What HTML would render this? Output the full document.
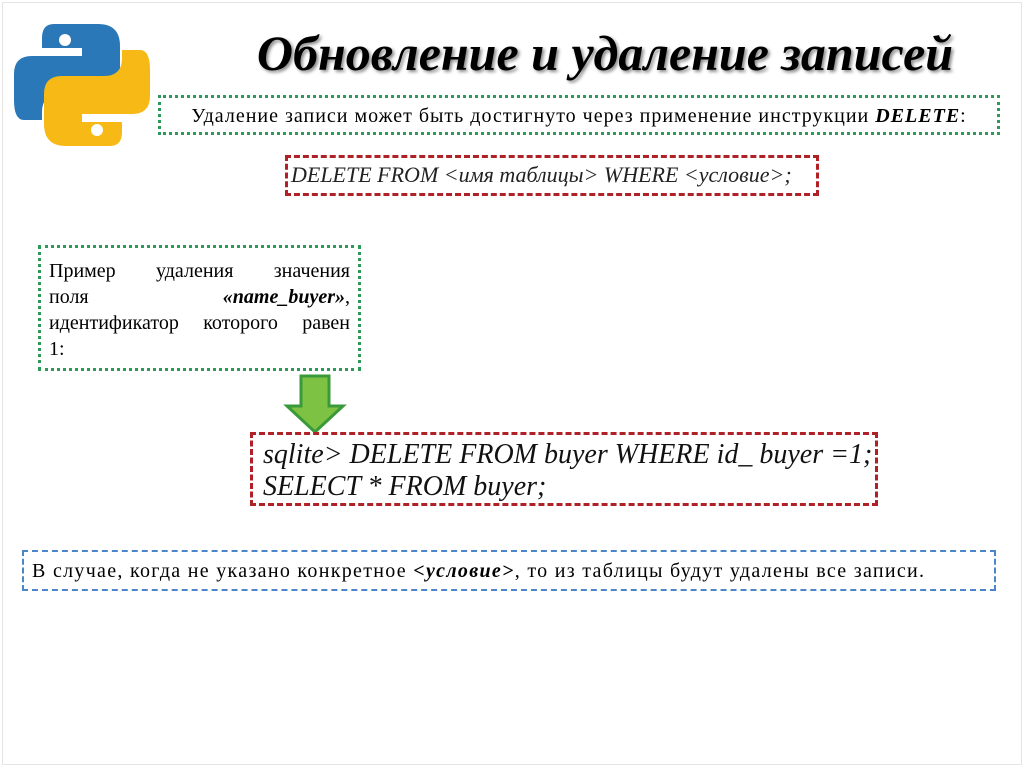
<!DOCTYPE html>
<html><head><meta charset="utf-8"><style>
body{margin:0;width:1024px;height:767px;background:#fff;position:relative;overflow:hidden;font-family:"Liberation Serif",serif;color:#000}
.a{position:absolute;box-sizing:border-box}
.j{text-align:justify;text-align-last:justify;height:26px}
</style></head><body>
<div class="a" style="left:2px;top:2px;width:1020px;height:763px;border:1px solid #e4e4e4"></div>
<svg class="a" style="left:12px;top:16px" width="140" height="138" viewBox="0 0 140 138">
<path d="M42 8 h44 q22 0 22 22 v30 q0 18 -18 18 h-42 q-18 0 -18 18 v8 h-18 q-10 0 -10 -20 v-26 q0 -18 18 -18 h50 v-8 h-40 v-10 q0 -14 12 -14z" fill="#2b78b8"/>
<circle cx="53" cy="24" r="6" fill="#fff"/>
<path d="M98 130 h-44 q-22 0 -22 -22 v-30 q0 -18 18 -18 h42 q18 0 18 -18 v-8 h18 q10 0 10 20 v26 q0 18 -18 18 h-50 v8 h40 v10 q0 14 -12 14z" fill="#f7b916"/>
<circle cx="85" cy="114" r="6" fill="#fff"/>
</svg>
<div class="a" style="left:152px;top:24px;width:906px;text-align:center;font-size:50px;font-weight:bold;font-style:italic;text-shadow:2px 2px 3px #888;white-space:nowrap">Обновление и удаление записей</div>
<div class="a" style="left:158px;top:95px;width:842px;height:40px;border:3px dotted #2e9a5a;font-size:20px;letter-spacing:1px;text-align:center;line-height:36px;white-space:nowrap">Удаление записи может быть достигнуто через применение инструкции <b><i>DELETE</i></b>:</div>
<div class="a" style="left:285px;top:155px;width:534px;height:41px;border:3px dashed #b02027;font-size:22px;font-style:italic;line-height:34px;padding-left:3px;color:#222;white-space:nowrap">DELETE FROM &lt;имя таблицы&gt; WHERE &lt;условие&gt;;</div>
<div class="a" style="left:38px;top:245px;width:323px;height:126px;border:3px dotted #2e9a5a;font-size:20px;line-height:26px;padding:10px 8px 0 8px">
<div class="j">Пример удаления значения</div>
<div class="j">поля <b><i>«name_buyer»</i></b>,</div>
<div class="j">идентификатор которого равен</div>
<div>1:</div>
</div>
<svg class="a" style="left:283px;top:374px" width="64" height="60"><path d="M18 2 h28 v30 h14 l-28 26 l-28 -26 h14z" fill="#7dc242" stroke="#3a9a3a" stroke-width="3"/></svg>
<div class="a" style="left:250px;top:432px;width:628px;height:74px;border:3px dashed #b02027;font-size:28px;font-style:italic;line-height:32px;padding:4px 0 0 10px;color:#111;white-space:nowrap">sqlite&gt; DELETE FROM buyer WHERE id_ buyer =1;<br>SELECT * FROM buyer;</div>
<div class="a" style="left:22px;top:550px;width:974px;height:41px;border:2px dashed #4a86c8;font-size:20px;letter-spacing:1.3px;line-height:38px;padding-left:8px;white-space:nowrap">В случае, когда не указано конкретное <b><i>&lt;условие&gt;</i></b>, то из таблицы будут удалены все записи.</div>
</body></html>
